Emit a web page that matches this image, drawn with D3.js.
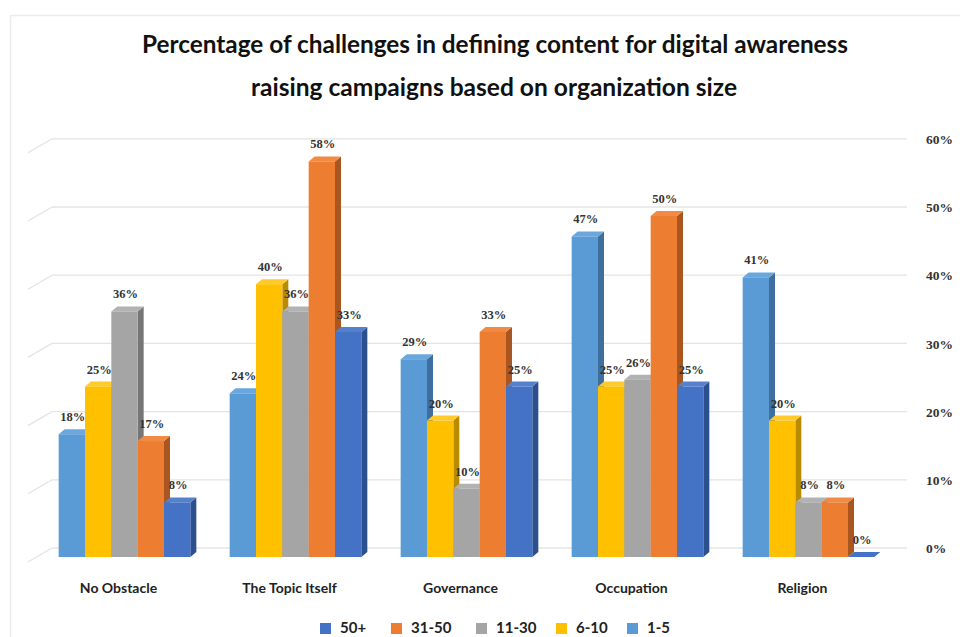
<!DOCTYPE html>
<html>
<head>
<meta charset="utf-8">
<script src="https://cdn.jsdelivr.net/npm/d3@7"></script>
<style>
  html, body { margin: 0; padding: 0; background: #fff; }
  svg { display: block; }
</style>
</head>
<body>
<svg id="chart" width="960" height="637"></svg>
<script>
// Categories and series (organization size groups)
const categories = ["No Obstacle", "The Topic Itself", "Governance", "Occupation", "Religion"];
const seriesNames = ["1-5", "6-10", "11-30", "31-50", "50+"];

// Percentage values per size group, one entry per category
const size1to5   = [18, 24, 29, 47, 41];
const size6to10  = [25, 40, 20, 25, 20];
const size11to30 = [36, 36, 10, 26, 8];
const size31to50 = [17, 58, 33, 50, 8];
const size50plus = [8, 33, 25, 25, 0];

const yTicks = [0, 10, 20, 30, 40, 50, 60];
const legendOrder = ["50+", "31-50", "11-30", "6-10", "1-5"];

const seriesValues = {
  "1-5": size1to5, "6-10": size6to10, "11-30": size11to30,
  "31-50": size31to50, "50+": size50plus
};

// Face colours: front, side, top
const palette = {
  "1-5":   { front: "#5b9bd5", side: "#3f6f9e", top: "#6aa7dc" },
  "6-10":  { front: "#ffc000", side: "#b98c00", top: "#ffca2a" },
  "11-30": { front: "#a5a5a5", side: "#767676", top: "#b2b2b2" },
  "31-50": { front: "#ed7d31", side: "#a95620", top: "#f08a44" },
  "50+":   { front: "#4472c4", side: "#2c4f8e", top: "#5580cc" }
};

const svg = d3.select("#chart");

// light outer frame
svg.append("path")
  .attr("d", "M10.5,637 L10.5,15.5 L960,15.5")
  .attr("fill", "none").attr("stroke", "#ececec").attr("stroke-width", 1.5);

// Title
const title = svg.append("g").attr("font-family", "Lato, 'Open Sans', sans-serif")
  .attr("font-weight", "bold").attr("fill", "#111").attr("text-anchor", "middle");
title.append("text").attr("x", 495).attr("y", 53).attr("font-size", 25)
  .attr("textLength", 706).attr("lengthAdjust", "spacingAndGlyphs")
  .text("Percentage of challenges in defining content for digital awareness");
title.append("text").attr("x", 494).attr("y", 96).attr("font-size", 25)
  .attr("textLength", 486).attr("lengthAdjust", "spacingAndGlyphs")
  .text("raising campaigns based on organization size");

// Scales
const baseY = 557;
const y = d3.scaleLinear().domain([0, 60]).range([baseY, baseY - 6.82 * 60]);
const wallShift = -9;   // back wall sits slightly above the floor front edge
const depthX = 6, depthY = -5;

const x0 = d3.scaleBand().domain(categories).range([39, 894])
  .paddingInner(0.23).paddingOuter(0.115);
const x1 = d3.scaleBand().domain(seriesNames).range([0, x0.bandwidth()]);

// Gridlines on the back wall, with the short side-wall segment at left
const grid = svg.append("g").attr("stroke", "#e4e4e4").attr("stroke-width", 1.3).attr("fill", "none");
yTicks.forEach(t => {
  const gy = y(t) + wallShift;
  grid.append("line").attr("x1", 52).attr("x2", 907).attr("y1", gy).attr("y2", gy);
  grid.append("line").attr("x1", 52).attr("x2", 28).attr("y1", gy).attr("y2", gy + 14);
});

// Right value axis
const yAxisScale = y.copy().range([baseY + wallShift, y(60) + wallShift]);
const axis = svg.append("g").attr("transform", "translate(926,0)")
  .call(d3.axisRight(yAxisScale).tickValues(yTicks).tickSize(0).tickPadding(0)
    .tickFormat(d => d + "%"));
axis.select(".domain").remove();
axis.selectAll("text")
  .attr("font-family", "'Liberation Serif', 'DejaVu Serif', serif")
  .attr("font-weight", "bold").attr("font-size", 13.5).attr("fill", "#333")
  .attr("dy", "0.35em");

// Bars drawn as pseudo-3D prisms, left to right so neighbours overlap correctly
const bars = svg.append("g");
const labels = svg.append("g")
  .attr("font-family", "'Liberation Serif', 'DejaVu Serif', serif")
  .attr("font-weight", "bold").attr("font-size", 12.5).attr("fill", "#333")
  .attr("text-anchor", "middle");

categories.forEach((cat, ci) => {
  seriesNames.forEach(s => {
    const v = seriesValues[s][ci];
    const bx = x0(cat) + x1(s);
    const w = x1.bandwidth();
    const yt = y(v);
    const c = palette[s];
    const g = bars.append("g");
    // side face
    g.append("path")
      .attr("d", `M${bx + w},${yt} L${bx + w + depthX},${yt + depthY} L${bx + w + depthX},${baseY + depthY} L${bx + w},${baseY} Z`)
      .attr("fill", c.side);
    // top face
    g.append("path")
      .attr("d", `M${bx},${yt} L${bx + depthX},${yt + depthY} L${bx + w + depthX},${yt + depthY} L${bx + w},${yt} Z`)
      .attr("fill", v === 0 ? c.front : c.top);
    // front face
    if (v > 0) {
      g.append("rect").attr("x", bx).attr("y", yt).attr("width", w).attr("height", baseY - yt)
        .attr("fill", c.front);
    }
    labels.append("text")
      .attr("x", bx + w / 2 + 1)
      .attr("y", yt - 13)
      .text(v + "%");
  });
});

// Category labels
svg.append("g")
  .attr("font-family", "Lato, 'Open Sans', sans-serif")
  .attr("font-weight", "bold").attr("font-size", 14).attr("fill", "#222")
  .attr("text-anchor", "middle")
  .selectAll("text").data(categories).join("text")
  .attr("x", d => x0(d) + x0.bandwidth() / 2 - 6)
  .attr("y", 593)
  .text(d => d);

// Legend
const legendX = [320, 391, 476, 556, 627];
const legend = svg.append("g");
legendOrder.forEach((s, i) => {
  legend.append("rect").attr("x", legendX[i]).attr("y", 623).attr("width", 11).attr("height", 11)
    .attr("fill", palette[s].front);
  legend.append("text").attr("x", legendX[i] + 20).attr("y", 633)
    .attr("font-family", "Lato, 'Open Sans', sans-serif")
    .attr("font-weight", "bold").attr("font-size", 15).attr("fill", "#222")
    .text(s);
});
</script>
</body>
</html>
